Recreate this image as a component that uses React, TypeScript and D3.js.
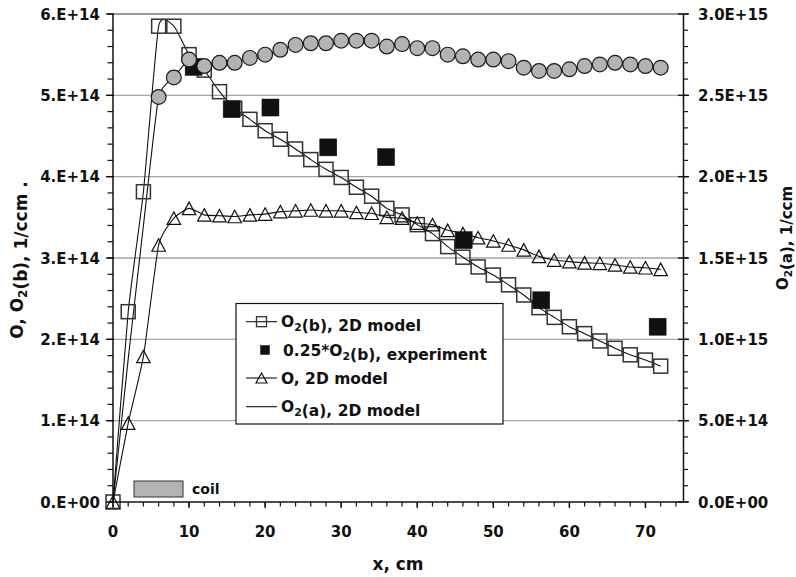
import React from 'react';
import * as d3 from 'd3';

// ---- data ----
const xPos = [0, 2, 4, 6, 8, 10, 12, 14, 16, 18, 20, 22, 24, 26, 28, 30, 32, 34, 36, 38, 40, 42, 44, 46, 48, 50, 52, 54, 56, 58, 60, 62, 64, 66, 68, 70, 72];
// O2(b), 2D model (units 1e14, left axis)
const o2bModel = [0, 2.34, 3.815, 5.85, 5.85, 5.5, 5.31, 5.045, 4.84, 4.705, 4.565, 4.46, 4.34, 4.21, 4.09, 3.99, 3.87, 3.76, 3.61, 3.53, 3.41, 3.3, 3.14, 3.01, 2.89, 2.79, 2.67, 2.545, 2.39, 2.27, 2.155, 2.07, 1.98, 1.89, 1.81, 1.745, 1.67];
// O, 2D model (units 1e14, left axis)
const oModel = [0, 0.97, 1.79, 3.16, 3.49, 3.61, 3.53, 3.52, 3.51, 3.53, 3.54, 3.57, 3.58, 3.59, 3.58, 3.58, 3.56, 3.55, 3.5, 3.49, 3.43, 3.41, 3.34, 3.3, 3.25, 3.21, 3.16, 3.1, 3.02, 2.975, 2.955, 2.94, 2.935, 2.915, 2.89, 2.88, 2.86];
// O2(a), 2D model (units 1e15, right axis)
const o2aModel = [0, 0.88, 1.7, 2.49, 2.61, 2.72, 2.68, 2.7, 2.7, 2.73, 2.75, 2.78, 2.81, 2.82, 2.82, 2.836, 2.836, 2.836, 2.8, 2.815, 2.79, 2.79, 2.75, 2.74, 2.72, 2.72, 2.71, 2.67, 2.65, 2.65, 2.66, 2.68, 2.69, 2.7, 2.69, 2.68, 2.67];
const o2aMarkerFromX = 6;
// 0.25*O2(b), experiment (units 1e14, left axis)
const expX = [10.6, 15.6, 20.7, 28.3, 35.9, 46.1, 56.3, 71.6];
const expY = [5.35, 4.83, 4.85, 4.36, 4.24, 3.22, 2.48, 2.155];

const xTickLabels = ['0', '10', '20', '30', '40', '50', '60', '70'];
const leftTickLabels = ['0.E+00', '1.E+14', '2.E+14', '3.E+14', '4.E+14', '5.E+14', '6.E+14'];
const rightTickLabels = ['0.0E+00', '5.0E+14', '1.0E+15', '1.5E+15', '2.0E+15', '2.5E+15', '3.0E+15'];

const FONT = '"DejaVu Sans", Verdana, sans-serif';

const x = d3.scaleLinear().domain([0, 75]).range([113, 683.5]);
const yL = d3.scaleLinear().domain([0, 6e14]).range([502, 14]);
const yR = d3.scaleLinear().domain([0, 3e15]).range([502, 14]);

const curve = d3.curveCardinal.tension(0.5);

function Square({ cx, cy, s, fill, stroke, sw }: any) {
  return <rect x={cx - s / 2} y={cy - s / 2} width={s} height={s} fill={fill} stroke={stroke} strokeWidth={sw} />;
}
function Triangle({ cx, cy, w, h }: any) {
  const p = `M${cx},${cy - h / 2}L${cx + w / 2},${cy + h / 2}L${cx - w / 2},${cy + h / 2}Z`;
  return <path d={p} fill="none" stroke="#111" strokeWidth={1.2} />;
}

export default function App() {
  const o2bPts = xPos.map((v, i) => [x(v), yL(o2bModel[i] * 1e14)] as [number, number]);
  const oPts = xPos.map((v, i) => [x(v), yL(oModel[i] * 1e14)] as [number, number]);
  const o2aPts = xPos.map((v, i) => [x(v), yR(o2aModel[i] * 1e15)] as [number, number]);
  const line = d3.line().curve(curve);

  const leftMajor = d3.range(0, 7).map((i) => i * 1e14);
  const leftMinor = d3.range(0, 31).map((i) => i * 2e13);
  const rightMajor = d3.range(0, 7).map((i) => i * 5e14);
  const rightMinor = d3.range(0, 31).map((i) => i * 1e14);
  const xMinor = d3.range(0, 38).map((i) => i * 2);
  const xMajor = xTickLabels.map(Number);

  const legendRows = [321.7, 350, 378, 406.7];
  const sub = (t: string) => (
    <>
      <tspan fontSize="70%" dy={4}>{t}</tspan>
      <tspan dy={-4}>{''}</tspan>
    </>
  );

  return (
    <svg width={796} height={577} style={{ position: 'absolute', left: 0, top: 0, background: '#fff' }} fontFamily={FONT}>
      {/* gridlines */}
      {leftMajor.slice(1).map((v) => (
        <line key={'g' + v} x1={113} x2={683.5} y1={yL(v)} y2={yL(v)} stroke={v === 6e14 ? '#7d786c' : '#aaa496'} strokeWidth={1.3} />
      ))}

      {/* coil */}
      <rect x={134} y={481} width={49} height={16} fill="#b3b3b3" stroke="#333" strokeWidth={1} />
      <text x={192} y={494} fontSize={14} fontWeight="bold" fill="#111">coil</text>

      {/* O2(a) line */}
      <path d={line(o2aPts) || ''} fill="none" stroke="#111" strokeWidth={1.1} />
      {/* O2(b) model */}
      <path d={line(o2bPts) || ''} fill="none" stroke="#111" strokeWidth={1.1} />
      {o2bPts.map(([cx, cy], i) => (
        <Square key={'s' + i} cx={cx} cy={cy} s={14} fill="none" stroke="#333" sw={1.5} />
      ))}
      {/* O model */}
      <path d={line(oPts) || ''} fill="none" stroke="#111" strokeWidth={1.1} />
      {oPts.map(([cx, cy], i) => (
        <Triangle key={'t' + i} cx={cx} cy={cy} w={13.5} h={12.5} />
      ))}
      {/* experiment */}
      {expX.map((v, i) => (
        <Square key={'e' + i} cx={x(v)} cy={yL(expY[i] * 1e14)} s={17} fill="#111" stroke="#111" sw={0.5} />
      ))}
      {/* O2(a) markers */}
      {o2aPts.map(([cx, cy], i) =>
        xPos[i] >= o2aMarkerFromX ? (
          <circle key={'c' + i} cx={cx} cy={cy} r={7.4} fill="#b3b3b3" stroke="#1a1a1a" strokeWidth={1.2} />
        ) : null
      )}

      {/* axes */}
      <line x1={113} x2={113} y1={14} y2={502} stroke="#111" strokeWidth={1.5} />
      <line x1={683.5} x2={683.5} y1={14} y2={502} stroke="#111" strokeWidth={1.5} />
      <line x1={113} x2={683.5} y1={502} y2={502} stroke="#111" strokeWidth={1.5} />
      {leftMinor.map((v) => (
        <line key={'lm' + v} x1={107.5} x2={113} y1={yL(v)} y2={yL(v)} stroke="#111" strokeWidth={1.2} />
      ))}
      {leftMajor.map((v) => (
        <line key={'lM' + v} x1={106} x2={114} y1={yL(v)} y2={yL(v)} stroke="#111" strokeWidth={1.4} />
      ))}
      {rightMinor.map((v) => (
        <line key={'rm' + v} x1={683.5} x2={688} y1={yR(v)} y2={yR(v)} stroke="#111" strokeWidth={1.2} />
      ))}
      {rightMajor.map((v) => (
        <line key={'rM' + v} x1={678} x2={689} y1={yR(v)} y2={yR(v)} stroke="#111" strokeWidth={1.4} />
      ))}
      {xMinor.map((v) => (
        <line key={'xm' + v} x1={x(v)} x2={x(v)} y1={502} y2={506.5} stroke="#111" strokeWidth={1.2} />
      ))}
      {xMajor.map((v) => (
        <line key={'xM' + v} x1={x(v)} x2={x(v)} y1={502} y2={508} stroke="#111" strokeWidth={1.4} />
      ))}

      {/* tick labels */}
      {leftTickLabels.map((t, i) => (
        <text key={'lt' + t} x={100} y={yL(leftMajor[i]) + 5.5} textAnchor="end" fontSize={15} fontWeight="bold" fill="#111">{t}</text>
      ))}
      {rightTickLabels.map((t, i) => (
        <text key={'rt' + t} x={698} y={yR(rightMajor[i]) + 5.5} textAnchor="start" fontSize={15} fontWeight="bold" fill="#111">{t}</text>
      ))}
      {xTickLabels.map((t, i) => (
        <text key={'xt' + t} x={x(xMajor[i])} y={537} textAnchor="middle" fontSize={15} fontWeight="bold" fill="#111">{t}</text>
      ))}

      {/* axis titles */}
      <text x={398} y={570} textAnchor="middle" fontSize={17} fontWeight="bold" fill="#111">x, cm</text>
      <text transform="translate(23,260) rotate(-90)" textAnchor="middle" fontSize={17} fontWeight="bold" fill="#111">
        O, O{sub('2')}(b), 1/ccm .
      </text>
      <text transform="translate(788,238) rotate(-90)" textAnchor="middle" fontSize={15} fontWeight="bold" fill="#111">
        O{sub('2')}(a), 1/ccm
      </text>

      {/* legend */}
      <rect x={236} y={303.5} width={267} height={120.5} fill="#fff" stroke="#111" strokeWidth={1.2} />
      <line x1={246} x2={277} y1={legendRows[0]} y2={legendRows[0]} stroke="#111" strokeWidth={1.1} />
      <Square cx={261.5} cy={legendRows[0]} s={10} fill="none" stroke="#333" sw={1.3} />
      <Square cx={265} cy={legendRows[1]} s={9} fill="#111" stroke="#111" sw={0.5} />
      <line x1={246} x2={277} y1={legendRows[2]} y2={legendRows[2]} stroke="#111" strokeWidth={1.1} />
      <Triangle cx={261.5} cy={legendRows[2]} w={11} h={10} />
      <line x1={246} x2={277} y1={legendRows[3]} y2={legendRows[3]} stroke="#111" strokeWidth={1.1} />
      <text x={281} y={legendRows[0] + 5.5} fontSize={15.5} fontWeight="bold" fill="#111">O{sub('2')}(b), 2D model</text>
      <text x={283} y={legendRows[1] + 5.5} fontSize={15.5} fontWeight="bold" fill="#111">0.25*O{sub('2')}(b), experiment</text>
      <text x={281} y={legendRows[2] + 5.5} fontSize={15.5} fontWeight="bold" fill="#111">O, 2D model</text>
      <text x={281} y={legendRows[3] + 5.5} fontSize={15.5} fontWeight="bold" fill="#111">O{sub('2')}(a), 2D model</text>
    </svg>
  );
}
